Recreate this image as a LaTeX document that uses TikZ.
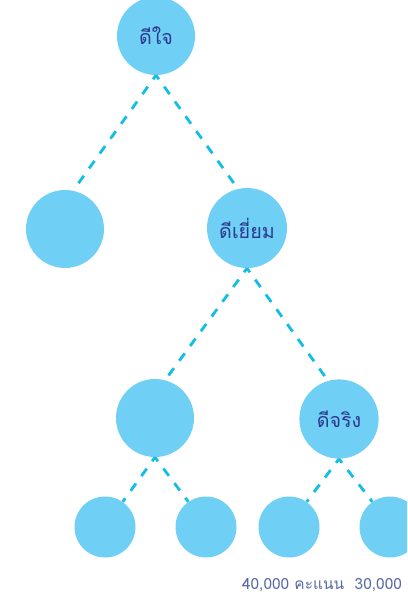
\documentclass[tikz,border=0pt]{standalone}
\usepackage{fontspec}
\newfontfamily\thaifont[Script=Thai]{Loma}
\definecolor{TreeSky}{HTML}{6FCFF5}
\definecolor{TreeCyan}{HTML}{12BEE6}
\definecolor{TreeNavy}{HTML}{2B3A8C}
\definecolor{TreeSlate}{HTML}{5B6AA6}
\usetikzlibrary{positioning}
\tikzset{
    % Base node style
    basenode/.style={
        circle,
        fill=TreeSky,
        draw=none,
        inner sep=0pt,
        text=TreeNavy,
        font=\thaifont\fontsize{14}{16}\selectfont
    },
    % Upper levels
    bignode/.style={
        basenode,
        minimum size=1.95cm
    },
    % Bottom level
    leafnode/.style={
        basenode,
        minimum size=1.525cm
    },
    % Dashed connector
    dashlink/.style={
        draw=TreeCyan,
        line width=2pt,
        dash pattern=on 6.5pt off 6.5pt,
        dash phase=3pt
    }
}
\begin{document}
\begin{tikzpicture}
        \clip (0,0) rectangle (10.175,-14.95);

        % Level 0
        \node[bignode] (root) at (3.9,-0.9) {ดีใจ};

        % Level 1
        \node[bignode] (left) at (1.625,-5.725) {};
        \node[bignode, minimum size=2cm] (great) at (6.175,-5.7) {ดีเยี่ยม};

        % Level 2
        \node[bignode] (midleft) at (3.875,-10.45) {};
        \node[bignode, minimum size=1.98cm] (really) at (8.475,-10.475) {ดีจริง};

        % Level 3
        \node[leafnode] (leafa) at (2.625,-13.175) {};
        \node[leafnode] (leafb) at (5.15,-13.175) {};
        \node[leafnode] (leafc) at (7.225,-13.175) {};
        \node[leafnode] (leafd) at (9.75,-13.175) {};

        % Links
        \draw[dashlink] (root.south) -- (left.78);
        \draw[dashlink] (root.south) -- (great.103);

        \draw[dashlink] (great.south) -- (midleft.75);
        \draw[dashlink] (great.south) -- (really.106);

        \draw[dashlink] (midleft.south) -- (leafa.55);
        \draw[dashlink] (midleft.south) -- (leafb.125);

        \draw[dashlink] (really.south) -- (leafc.55);
        \draw[dashlink] (really.south) -- (leafd.125);

        % Score line
        \node[text=TreeSlate, font=\thaifont\fontsize{11}{13}\selectfont] (score) at (8.05,-14.625) {40,000 คะแนน\ \ 30,000};
    \end{tikzpicture}
\end{document}
